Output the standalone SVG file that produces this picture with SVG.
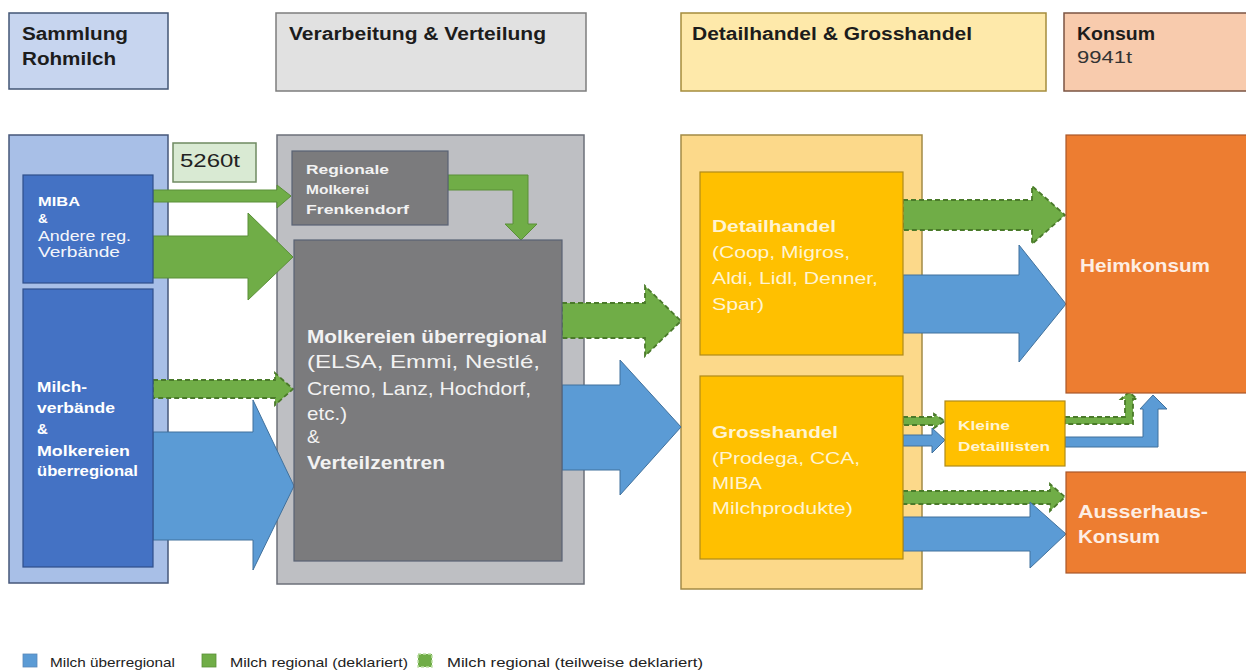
<svg xmlns="http://www.w3.org/2000/svg" width="1246" height="671" viewBox="0 0 1246 671">
<style>
text{font-family:"Liberation Sans",Arial,sans-serif}
.h{font-weight:bold;font-size:18px;fill:#1c1c1c}
.b{font-weight:bold}
.w{fill:#ffffff}
.wb{fill:#f4f6fb}
.g{fill:#f2f2f2}
.y{fill:#fff4d2}
.o{fill:#fdeee4}
.blue{fill:#5b9bd5;stroke:#41719c;stroke-width:1}
.grn{fill:#70ad47;stroke:#5a8f38;stroke-width:1}
.dash{fill:#70ad47;stroke:#4a7a2a;stroke-width:1.8;stroke-dasharray:5 3}
.leg{font-size:13px;fill:#222}
</style>
<rect width="1246" height="671" fill="#ffffff"/>

<!-- header row -->
<g id="hdr-sammlung">
<rect x="9" y="13" width="159" height="76" fill="#c7d5ef" stroke="#435675" stroke-width="1.5"/>
<text class="h" x="22" y="40" textLength="106" lengthAdjust="spacingAndGlyphs">Sammlung</text>
<text class="h" x="22" y="65" textLength="94" lengthAdjust="spacingAndGlyphs">Rohmilch</text>
</g>
<g id="hdr-verarbeitung">
<rect x="276" y="13" width="310" height="78" fill="#e1e1e1" stroke="#7d7d7d" stroke-width="1.5"/>
<text class="h" x="289" y="40" textLength="257" lengthAdjust="spacingAndGlyphs">Verarbeitung &amp; Verteilung</text>
</g>
<g id="hdr-handel">
<rect x="681" y="13" width="365" height="78" fill="#fee9aa" stroke="#a58c3c" stroke-width="1.5"/>
<text class="h" x="692" y="40" textLength="280" lengthAdjust="spacingAndGlyphs">Detailhandel &amp; Grosshandel</text>
</g>
<g id="hdr-konsum">
<rect x="1064" y="13" width="190" height="78" fill="#f8cbad" stroke="#7b5443" stroke-width="1.5"/>
<text class="h" x="1077" y="40" textLength="78" lengthAdjust="spacingAndGlyphs">Konsum</text>
<text x="1077" y="63" font-size="17" fill="#333" textLength="55" lengthAdjust="spacingAndGlyphs">9941t</text>
</g>

<!-- outer panels -->
<g id="panel-sammlung">
<rect x="9" y="135" width="159" height="448" fill="#a8bfe7" stroke="#46577a" stroke-width="1.5"/>
</g>
<g id="panel-verarbeitung">
<rect x="277" y="135" width="307" height="449" fill="#bebfc3" stroke="#6c707a" stroke-width="1.5"/>
</g>
<g id="panel-handel">
<rect x="681" y="135" width="241" height="454" fill="#fcd98a" stroke="#a38a45" stroke-width="1.5"/>
</g>

<!-- connectors -->
<g id="connectors">
<polygon class="grn" points="153,190 277,190 277,185 291,196 277,208 277,202 153,202"/>
<polygon class="grn" points="153,236 248,236 248,213 293,257 248,300 248,278 153,278"/>
<polygon class="dash" points="153,380 275,380 275,373 293,389 275,405 275,398 153,398"/>
<polygon class="blue" points="153,432 253,432 253,400 294,486 253,570 253,540 153,540"/>
<polygon class="grn" points="448,175 528,175 528,224 537,224 521,240 505,224 513,224 513,190 448,190"/>
<polygon class="dash" points="562,303 645,303 645,286 681,321 645,356 645,338 562,338"/>
<polygon class="blue" points="562,385 620,385 620,360 681,427 620,495 620,470 562,470"/>
<polygon class="dash" points="903,200 1032,200 1032,186 1065,215 1032,244 1032,230 903,230"/>
<polygon class="blue" points="903,275 1019,275 1019,245 1066,304 1019,362 1019,333 903,333"/>
<polygon class="dash" points="903,417 934,417 934,414 945,421 934,428 934,425 903,425"/>
<polygon class="blue" points="903,435 932,435 932,428 945,440 932,453 932,446 903,446"/>
<polygon class="dash" points="903,491 1050,491 1050,484 1065,497 1050,511 1050,504 903,504"/>
<polygon class="blue" points="903,517 1030,517 1030,502 1066,534 1030,568 1030,551 903,551"/>
<polygon class="dash" points="1065,417 1125,417 1125,399 1121,399 1129,392 1137,399 1133,399 1133,424 1065,424"/>
<polygon class="blue" points="1065,437 1143,437 1143,409 1140,409 1153,395 1167,409 1158,409 1158,447 1065,447"/>
</g>

<!-- nodes -->
<g id="node-5260t">
<rect x="173" y="143" width="83" height="39" fill="#d9ead3" stroke="#6f8a62" stroke-width="1.5"/>
<text x="180" y="167" font-size="18" fill="#222" textLength="60" lengthAdjust="spacingAndGlyphs">5260t</text>
</g>
<g id="node-miba">
<rect x="23" y="175" width="130" height="108" fill="#4472c4" stroke="#2f4f8a" stroke-width="1.2"/>
<text class="b w" x="38" y="206" font-size="13.5" textLength="42" lengthAdjust="spacingAndGlyphs">MIBA</text>
<text class="b w" x="38" y="223" font-size="13.5">&amp;</text>
<text class="wb" x="38" y="241" font-size="15" textLength="93" lengthAdjust="spacingAndGlyphs">Andere reg.</text>
<text class="wb" x="38" y="257" font-size="15" textLength="82" lengthAdjust="spacingAndGlyphs">Verbände</text>
</g>
<g id="node-milchverbaende">
<rect x="23" y="289" width="130" height="278" fill="#4472c4" stroke="#2f4f8a" stroke-width="1.2"/>
<text class="b w" x="37" y="392" font-size="15" textLength="50" lengthAdjust="spacingAndGlyphs">Milch-</text>
<text class="b w" x="37" y="413" font-size="15" textLength="78" lengthAdjust="spacingAndGlyphs">verbände</text>
<text class="b w" x="37" y="434" font-size="15">&amp;</text>
<text class="b w" x="37" y="456" font-size="15" textLength="93" lengthAdjust="spacingAndGlyphs">Molkereien</text>
<text class="b w" x="37" y="476" font-size="15" textLength="101" lengthAdjust="spacingAndGlyphs">überregional</text>
</g>
<g id="node-regionale">
<rect x="292" y="151" width="156" height="74" fill="#7b7b7d" stroke="#596274" stroke-width="1.2"/>
<text class="b g" x="306" y="174" font-size="13.5" textLength="83" lengthAdjust="spacingAndGlyphs">Regionale</text>
<text class="b g" x="306" y="194" font-size="13.5" textLength="63" lengthAdjust="spacingAndGlyphs">Molkerei</text>
<text class="b g" x="306" y="214" font-size="13.5" textLength="103" lengthAdjust="spacingAndGlyphs">Frenkendorf</text>
</g>
<g id="node-molkereien">
<rect x="294" y="240" width="268" height="321" fill="#7b7b7d" stroke="#596274" stroke-width="1.2"/>
<text class="b g" x="307" y="343" font-size="19" textLength="240" lengthAdjust="spacingAndGlyphs">Molkereien überregional</text>
<text class="g" x="307" y="368" font-size="19" textLength="233" lengthAdjust="spacingAndGlyphs">(ELSA, Emmi, Nestlé,</text>
<text class="g" x="307" y="395" font-size="19" textLength="224" lengthAdjust="spacingAndGlyphs">Cremo, Lanz, Hochdorf,</text>
<text class="g" x="307" y="420" font-size="19" textLength="40" lengthAdjust="spacingAndGlyphs">etc.)</text>
<text class="g" x="307" y="443" font-size="19">&amp;</text>
<text class="b g" x="307" y="469" font-size="19" textLength="138" lengthAdjust="spacingAndGlyphs">Verteilzentren</text>
</g>
<g id="node-detailhandel">
<rect x="700" y="172" width="203" height="183" fill="#ffc000" stroke="#b08a1a" stroke-width="1.2"/>
<text class="b y" x="712" y="232" font-size="17" textLength="124" lengthAdjust="spacingAndGlyphs">Detailhandel</text>
<text class="y" x="712" y="258" font-size="17" textLength="138" lengthAdjust="spacingAndGlyphs">(Coop, Migros,</text>
<text class="y" x="712" y="284" font-size="17" textLength="166" lengthAdjust="spacingAndGlyphs">Aldi, Lidl, Denner,</text>
<text class="y" x="712" y="310" font-size="17" textLength="52" lengthAdjust="spacingAndGlyphs">Spar)</text>
</g>
<g id="node-grosshandel">
<rect x="700" y="376" width="203" height="183" fill="#ffc000" stroke="#b08a1a" stroke-width="1.2"/>
<text class="b y" x="712" y="438" font-size="17" textLength="126" lengthAdjust="spacingAndGlyphs">Grosshandel</text>
<text class="y" x="712" y="464" font-size="17" textLength="148" lengthAdjust="spacingAndGlyphs">(Prodega, CCA,</text>
<text class="y" x="712" y="489" font-size="17" textLength="50" lengthAdjust="spacingAndGlyphs">MIBA</text>
<text class="y" x="712" y="514" font-size="17" textLength="141" lengthAdjust="spacingAndGlyphs">Milchprodukte)</text>
</g>
<g id="node-kleine">
<rect x="945" y="401" width="120" height="65" fill="#ffc000" stroke="#b08a1a" stroke-width="1.2"/>
<text class="b y" x="958" y="430" font-size="12.5" textLength="52" lengthAdjust="spacingAndGlyphs">Kleine</text>
<text class="b y" x="958" y="451" font-size="12.5" textLength="92" lengthAdjust="spacingAndGlyphs">Detaillisten</text>
</g>
<g id="node-heimkonsum">
<rect x="1066" y="135" width="190" height="258" fill="#ed7d31" stroke="#a9582a" stroke-width="1.2"/>
<text class="b o" x="1080" y="272" font-size="18" textLength="130" lengthAdjust="spacingAndGlyphs">Heimkonsum</text>
</g>
<g id="node-ausserhaus">
<rect x="1066" y="472" width="190" height="101" fill="#ed7d31" stroke="#a9582a" stroke-width="1.2"/>
<text class="b o" x="1078" y="518" font-size="19" textLength="130" lengthAdjust="spacingAndGlyphs">Ausserhaus-</text>
<text class="b o" x="1078" y="543" font-size="19" textLength="82" lengthAdjust="spacingAndGlyphs">Konsum</text>
</g>

<!-- legend -->
<g id="legend">
<rect x="23" y="654" width="14" height="13" fill="#5b9bd5" stroke="#5b88b8" stroke-width="0.8"/>
<text class="leg" x="50" y="667" textLength="125" lengthAdjust="spacingAndGlyphs">Milch überregional</text>
<rect x="202" y="654" width="14" height="13" fill="#70ad47" stroke="#5a8f38" stroke-width="0.8"/>
<text class="leg" x="230" y="667" textLength="178" lengthAdjust="spacingAndGlyphs">Milch regional (deklariert)</text>
<rect x="418" y="654" width="14" height="13" fill="#70ad47" stroke="#bfe0a8" stroke-width="1.5" stroke-dasharray="3 2"/>
<text class="leg" x="447" y="667" textLength="256" lengthAdjust="spacingAndGlyphs">Milch regional (teilweise deklariert)</text>
</g>
</svg>
